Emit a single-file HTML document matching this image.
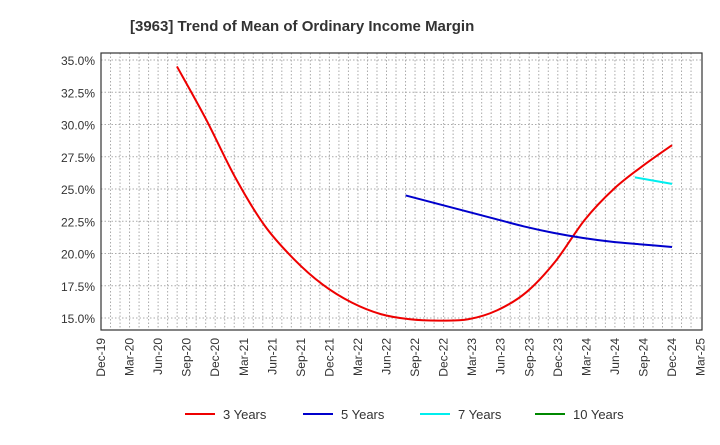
<!DOCTYPE html>
<html><head><meta charset="utf-8"><style>
body{margin:0;background:#fff;font-family:"Liberation Sans",sans-serif;}
</style></head><body>
<svg id="c" width="720" height="440" xmlns="http://www.w3.org/2000/svg">
<text x="130" y="31" font-size="15" font-weight="bold" fill="#333">[3963]  Trend of Mean of Ordinary Income Margin</text>
<g id="grid"></g><g id="axes"></g><g id="series"></g><g id="legend"></g>
</svg>
<script>
const xLabels=["Dec-19","Mar-20","Jun-20","Sep-20","Dec-20","Mar-21","Jun-21","Sep-21","Dec-21","Mar-22","Jun-22","Sep-22","Dec-22","Mar-23","Jun-23","Sep-23","Dec-23","Mar-24","Jun-24","Sep-24","Dec-24","Mar-25"];
const yTicks=[15,17.5,20,22.5,25,27.5,30,32.5,35];
const s3Start=2.66;
const s3=[34.5,30.4,25.9,22.2,19.6,17.6,16.2,15.3,14.9,14.8,14.9,15.6,17.0,19.4,22.6,25.0,26.8,28.4];
const s5Start=10.67;
const s5=[24.5,23.9,23.3,22.7,22.1,21.6,21.2,20.9,20.7,20.5];
const s7Start=18.7;
const s7=[25.9,25.4];
const s10=[];
const endIdx=20;
const L=101,R=702,T=53,B=330;
const xs=i=>L+i*28.55;
const ys=v=>253.5-(v-20)*12.9;
const NS="http://www.w3.org/2000/svg";
function mk(t,a,p){const e=document.createElementNS(NS,t);for(const k in a)e.setAttribute(k,a[k]);p.appendChild(e);return e;}
const g=document.getElementById('grid'),ax=document.getElementById('axes'),se=document.getElementById('series'),lg=document.getElementById('legend');
for(let m=1;m<63;m++){const x=L+m*28.55/3;const l=mk('line',{x1:x,x2:x,y1:T,y2:B,stroke:'#aaa','stroke-dasharray':'1.5,2','stroke-width':1},g);

}
yTicks.forEach(v=>{const y=ys(v);const l=mk('line',{x1:L,x2:R,y1:y,y2:y,stroke:'#aaa','stroke-dasharray':'1.5,2'},g);


const t=mk('text',{x:L-6,y:y+5,'text-anchor':'end','font-size':12,fill:'#333'},ax);t.textContent=v.toFixed(1)+'%';

});
const fr=mk('rect',{x:L,y:T,width:R-L,height:B-T,fill:'none',stroke:'#333','stroke-width':1.2},ax);


xLabels.forEach((s,i)=>{const x=xs(i);const t=mk('text',{x:0,y:0,'text-anchor':'end','font-size':12,fill:'#333',transform:`translate(${x+4},${B+8}) rotate(-90)`},ax);t.textContent=s;

});
function path(start,arr){const n=arr.length;const step=n>1?(endIdx-start)/(n-1):0;const p=arr.map((v,i)=>[xs(start+i*step),ys(v)]);if(!p.length)return'';let d=`M${p[0][0]},${p[0][1]}`;
for(let i=0;i<p.length-1;i++){const p0=p[i-1]||p[i],p1=p[i],p2=p[i+1],p3=p[i+2]||p2;
d+=` C${p1[0]+(p2[0]-p0[0])/6},${p1[1]+(p2[1]-p0[1])/6} ${p2[0]-(p3[0]-p1[0])/6},${p2[1]-(p3[1]-p1[1])/6} ${p2[0]},${p2[1]}`;}return d;}
[[s3Start,s3,'#e00','series-3-years'],[s5Start,s5,'#00c','series-5-years'],[s7Start,s7,'#0ee','series-7-years'],[0,s10,'#080','series-10-years']].forEach(([st,a,c,n])=>{if(!a.length)return;
const e=mk('path',{d:path(st,a),fill:'none',stroke:c,'stroke-width':2},se);

});
[['3 Years','#e00',185],['5 Years','#00c',303],['7 Years','#0ee',420],['10 Years','#080',535]].forEach(([s,c,x])=>{
const l=mk('line',{x1:x,x2:x+30,y1:414,y2:414,stroke:c,'stroke-width':2},lg);


const t=mk('text',{x:x+38,y:419,'font-size':13,fill:'#333'},lg);t.textContent=s;

});
</script>
</body></html>
